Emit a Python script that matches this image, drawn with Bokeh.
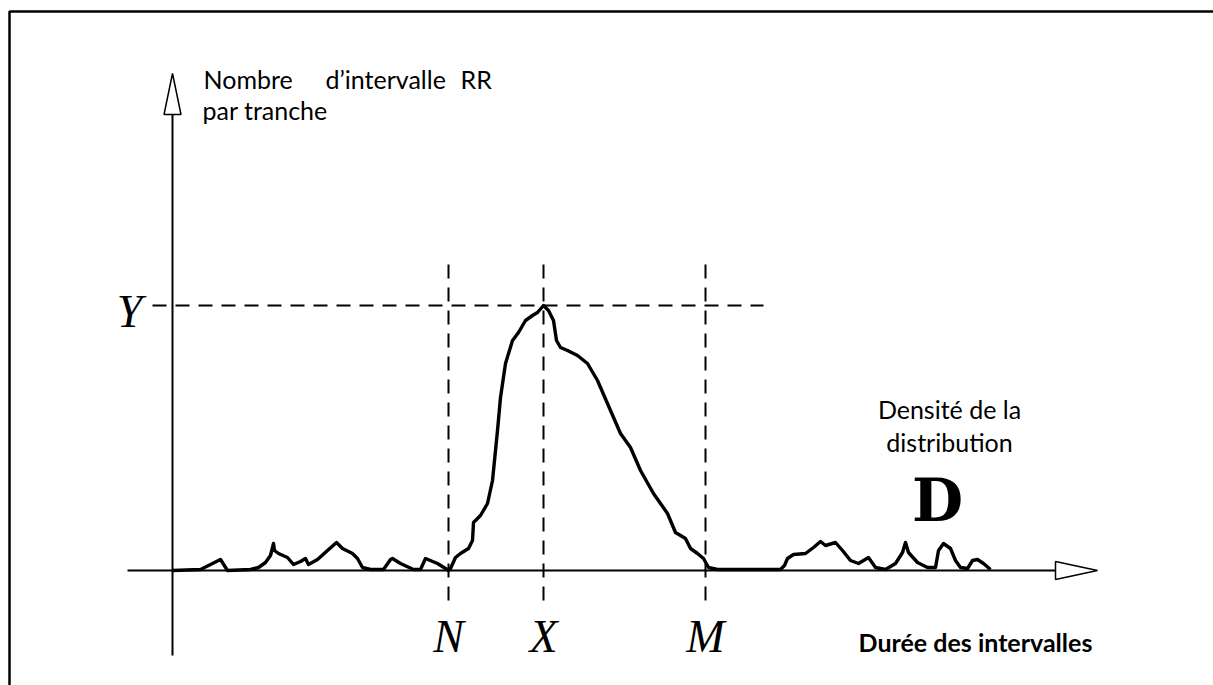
from bokeh.plotting import figure
from bokeh.models import Range1d
from bokeh.core.properties import value
from bokeh.embed import file_html
from bokeh.resources import INLINE

# ---- data (durée des intervalles vs nombre d'intervalles RR) ----
curve_x = [0, 28, 40, 48, 55, 78, 86, 93, 98, 101, 102, 106, 115, 121, 128, 133, 136, 145,
           155, 164, 170, 180, 185, 190, 198, 211, 218, 220, 228, 241, 248, 253, 265, 273,
           276, 278, 283, 288, 296, 300, 301, 308, 315, 320, 325, 328, 333, 340, 346, 353,
           360, 365, 371, 376, 381, 384, 388, 395, 405, 415, 425, 438, 448, 458, 468, 481,
           495, 503, 513, 518, 525, 531, 536, 545, 608, 612, 615, 621, 633, 641, 648, 653,
           663, 670, 678, 686, 696, 703, 713, 723, 730, 733, 736, 745, 755, 763, 766, 771,
           778, 783, 788, 795, 800, 805, 811, 818]
curve_y = [0, 1, 7, 11, 0, 1, 3, 8, 15, 27, 20, 17, 13, 6, 9, 12, 6, 11,
           20, 28, 22, 17, 12, 3, 1, 1, 11, 12, 7, 1, 1, 12, 7, 2,
           0, 2, 13, 17, 22, 30, 48, 55, 67, 90, 140, 173, 207, 230, 238, 250,
           255, 258, 265, 260, 250, 230, 223, 220, 215, 207, 190, 160, 137, 123, 100, 77,
           57, 38, 32, 22, 17, 12, 3, 1, 1, 5, 12, 16, 17, 23, 29, 25,
           28, 20, 10, 7, 13, 3, 1, 7, 18, 28, 18, 8, 3, 3, 20, 27,
           22, 10, 3, 2, 10, 11, 7, 1]
marker_names = ["N", "X", "M"]
marker_x = [276, 371, 533]
peak_name = "Y"
peak_y = 265
y_axis_title = ["Nombre", "d\u2019intervalle", "RR"]
y_axis_title2 = "par tranche"
x_axis_title = "Dur\u00e9e des intervalles"
density_title = ["Densit\u00e9 de la", "distribution"]
density_symbol = "D"

W, H = 1213, 685
p = figure(width=W, height=H, output_backend="svg", toolbar_location=None,
           x_range=Range1d(-172, 1041), y_range=Range1d(-115, 570),
           min_border=0, outline_line_color=None)
p.axis.visible = False
p.grid.visible = False
p.background_fill_color = "white"
p.border_fill_color = "white"

# frame border (top and left visible)
p.line([-163, -163, 1060], [-130, 559, 559], line_color="black", line_width=2.5)

# axes
x_left, x_end, x_tip = -45, 883, 925
y_bot, y_end, y_tip = -85, 456, 497
p.line([x_left, x_end], [0, 0], line_color="black", line_width=2)
p.line([0, 0], [y_bot, y_end], line_color="black", line_width=2)
p.patch([x_end, x_tip, x_end], [9, 0, -9], fill_color="white", line_color="black", line_width=1.5)
p.patch([-8.5, 0, 8.5], [y_end, y_tip, y_end], fill_color="white", line_color="black", line_width=1.5)

# dashed guides
dash = "14 9"
p.line([-20, 591], [peak_y, peak_y], line_color="black", line_width=2, line_dash=dash)
for mx in marker_x:
    p.line([mx, mx], [-30, 307], line_color="black", line_width=2, line_dash=dash)

# curve
p.line(curve_x, curve_y, line_color="black", line_width=3.4, line_join="round")

# labels
serif_it = value("Liberation Serif")
p.text(x=marker_x, y=[-66] * 3, text=marker_names, text_font=serif_it,
       text_font_style="italic", text_font_size=value("46px"),
       text_align="center", text_baseline="alphabetic", text_color="black")
p.text(x=[-43], y=[peak_y - 6], text=[peak_name], text_font=serif_it,
       text_font_style="italic", text_font_size=value("46px"),
       text_align="center", text_baseline="alphabetic", text_color="black")
p.text(x=[765], y=[70], text=[density_symbol], text_font=value("DejaVu Serif"),
       text_font_style="bold", text_font_size=value("59px"),
       text_align="center", text_baseline="alphabetic", text_color="black")

sans = value("Lato")
fs = value("25px")
p.text(x=[31, 153, 288], y=[492] * 3, text=y_axis_title, text_font=sans,
       text_font_size=fs, text_align="left", text_baseline="alphabetic",
       text_color="black")
p.text(x=[30], y=[461], text=[y_axis_title2], text_font=sans,
       text_font_size=fs, text_align="left", text_baseline="alphabetic",
       text_color="black")
p.text(x=[777, 777], y=[162, 129], text=density_title, text_font=sans,
       text_font_size=fs, text_align="center", text_baseline="alphabetic",
       text_color="black")
p.text(x=[803], y=[-71], text=[x_axis_title], text_font=sans, text_font_style="bold",
       text_font_size=fs, text_align="center", text_baseline="alphabetic",
       text_color="black")

open("out.html", "w").write(file_html(p, INLINE))
